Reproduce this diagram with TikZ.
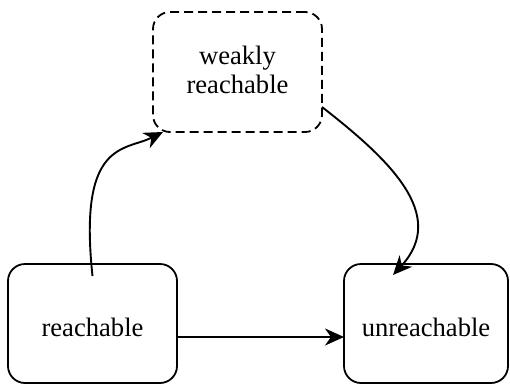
\documentclass[tikz,border=0pt]{standalone}
\usepackage{fontspec}
\setmainfont{Liberation Serif}
\usetikzlibrary{arrows.meta}
\begin{document}
\begin{tikzpicture}[x=1pt,y=-1pt,
  statebox/.style={draw, line width=1.8pt, rounded corners=17pt, minimum height=119pt, align=center, font=\fontsize{26.6}{28.5}\selectfont, outer sep=0pt},
  conn/.style={line width=1.9pt, -{Stealth[length=19pt,width=17pt,inset=6pt]}}]
\useasboundingbox (0,0) rectangle (510,385);
\node[statebox, dashed, dash pattern=on 9pt off 5pt, minimum width=169pt, minimum height=120pt] (w) at (237.5,72) {\raisebox{2pt}[\height][\depth]{\shortstack{weakly\\[1pt]reachable}}};
\node[statebox, minimum width=169pt] (r) at (92.5,323.5) {\raisebox{-4pt}[\height][\depth]{reachable}};
\node[statebox, minimum width=164pt] (u) at (426,323.5) {\raisebox{-4pt}[\height][\depth]{unreachable}};
\draw[conn] ([yshift=-12pt]r.north) .. controls (78,140) and (125,151) .. ([xshift=10pt]w.south west);
\draw[conn] ([yshift=25pt]w.south east) .. controls (390,160) and (448,215) .. ([shift={(-33pt,-11pt)}]u.north);
\draw[conn] ([yshift=-13.5pt]r.east) -- ([yshift=-13.5pt]u.west);
\end{tikzpicture}
\end{document}
